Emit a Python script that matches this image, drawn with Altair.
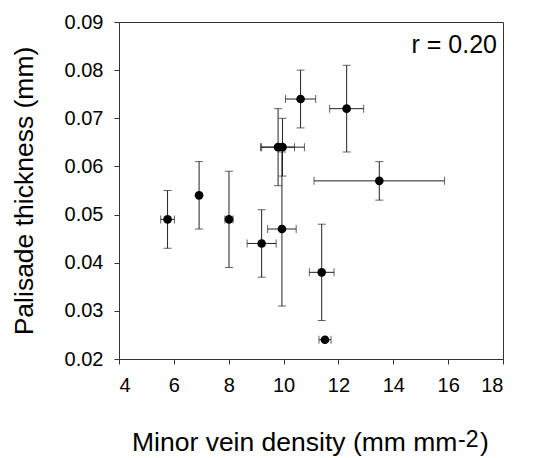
import altair as alt
import pandas as pd

# ---- data ----
vein_density = [5.77, 6.92, 8.01, 9.20, 9.80, 9.96, 9.94, 10.62, 12.30, 13.49, 11.39, 11.51]
vein_err = [0.25, 0.0, 0.15, 0.53, 0.60, 0.80, 0.52, 0.55, 0.62, 2.38, 0.45, 0.22]
palisade = [0.049, 0.054, 0.049, 0.044, 0.064, 0.064, 0.047, 0.074, 0.072, 0.057, 0.038, 0.024]
palisade_err = [0.006, 0.007, 0.010, 0.007, 0.008, 0.006, 0.016, 0.006, 0.009, 0.004, 0.010, 0.0]

x_ticks = [4, 6, 8, 10, 12, 14, 16, 18]
y_ticks = [0.02, 0.03, 0.04, 0.05, 0.06, 0.07, 0.08, 0.09]
y_title = "Palisade thickness (mm)"
x_title_main = "Minor vein density (mm mm"
x_title_sup = "-2"
x_title_end = ")"
r_label = "r = 0.20"

df = pd.DataFrame({
    "x": vein_density,
    "y": palisade,
    "xlo": [a - e for a, e in zip(vein_density, vein_err)],
    "xhi": [a + e for a, e in zip(vein_density, vein_err)],
    "ylo": [a - e for a, e in zip(palisade, palisade_err)],
    "yhi": [a + e for a, e in zip(palisade, palisade_err)],
    "xe": vein_err,
    "ye": palisade_err,
})
dfx = df[df["xe"] > 0]
dfy = df[df["ye"] > 0]
one = pd.DataFrame({"k": [0]})

FONT = "Liberation Sans"
LINE = "#222222"

xscale = alt.Scale(domain=[4, 18], nice=False, zero=False)
yscale = alt.Scale(domain=[0.02, 0.09], nice=False, zero=False)

xaxis = alt.Axis(values=x_ticks, title=None, format="d")
yaxis = alt.Axis(values=y_ticks, title=y_title, format=".2f")

vbars = alt.Chart(dfy).mark_rule(color=LINE, strokeWidth=1).encode(
    x=alt.X("x:Q", scale=xscale, axis=xaxis),
    y=alt.Y("ylo:Q", scale=yscale, axis=yaxis),
    y2="yhi:Q",
)
vcap_top = alt.Chart(dfy).mark_tick(orient="horizontal", size=8, thickness=1, color=LINE).encode(
    x=alt.X("x:Q", scale=xscale), y=alt.Y("yhi:Q", scale=yscale)
)
vcap_bot = alt.Chart(dfy).mark_tick(orient="horizontal", size=8, thickness=1, color=LINE).encode(
    x=alt.X("x:Q", scale=xscale), y=alt.Y("ylo:Q", scale=yscale)
)
hbars = alt.Chart(dfx).mark_rule(color=LINE, strokeWidth=1).encode(
    x=alt.X("xlo:Q", scale=xscale),
    x2="xhi:Q",
    y=alt.Y("y:Q", scale=yscale),
)
hcap_l = alt.Chart(dfx).mark_tick(orient="vertical", size=8, thickness=1, color=LINE).encode(
    x=alt.X("xlo:Q", scale=xscale), y=alt.Y("y:Q", scale=yscale)
)
hcap_r = alt.Chart(dfx).mark_tick(orient="vertical", size=8, thickness=1, color=LINE).encode(
    x=alt.X("xhi:Q", scale=xscale), y=alt.Y("y:Q", scale=yscale)
)
points = alt.Chart(df).mark_circle(size=75, color="black", opacity=1).encode(
    x=alt.X("x:Q", scale=xscale), y=alt.Y("y:Q", scale=yscale)
)

r_text = alt.Chart(one).mark_text(text=r_label, font=FONT, fontSize=25, align="right",
                                  baseline="alphabetic", color="black").encode(
    x=alt.value(378), y=alt.value(31)
)
xt_main = alt.Chart(one).mark_text(text=x_title_main, font=FONT, fontSize=26.5, align="left",
                                   baseline="alphabetic", color="black").encode(
    x=alt.value(13), y=alt.value(429)
)
xt_sup = alt.Chart(one).mark_text(text=x_title_sup, font=FONT, fontSize=23, align="left",
                                  baseline="alphabetic", color="black").encode(
    x=alt.value(339), y=alt.value(425)
)
xt_end = alt.Chart(one).mark_text(text=x_title_end, font=FONT, fontSize=26.5, align="left",
                                  baseline="alphabetic", color="black").encode(
    x=alt.value(361), y=alt.value(429)
)

chart = alt.layer(
    vbars, vcap_top, vcap_bot, hbars, hcap_l, hcap_r, points,
    r_text, xt_main, xt_sup, xt_end
).properties(
    width=384, height=337,
    background="white",
    autosize=alt.AutoSizeParams(type="none"),
    padding={"left": 119, "top": 22, "right": 30, "bottom": 99},
).configure_view(
    stroke="#333333", strokeWidth=1
).configure_axis(
    grid=False,
    domainColor="#333333",
    tickColor="#333333",
    tickSize=5,
    labelFont=FONT,
    labelFontSize=20,
    labelColor="black",
    labelPadding=11,
    titleFont=FONT,
    titleFontSize=26.5,
    titleFontWeight="normal",
    titleColor="black",
    titlePadding=26,
)

chart.save("out.html", embed_options={"renderer": "svg", "actions": False})
